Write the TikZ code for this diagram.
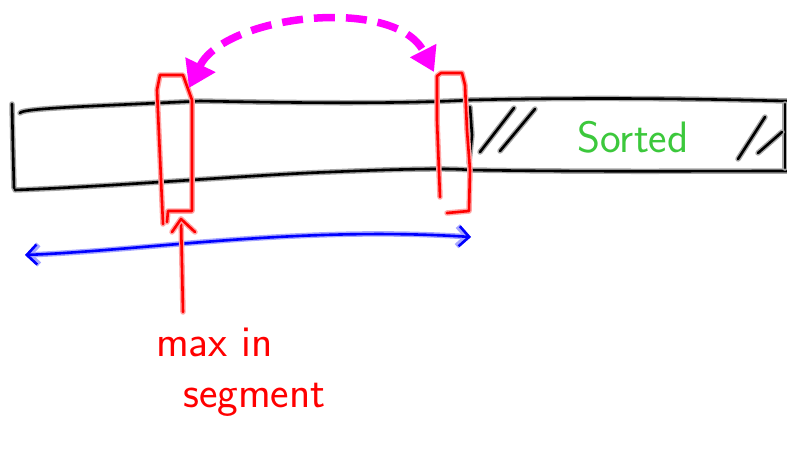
\documentclass[tikz,border=0pt]{standalone}
\usetikzlibrary{arrows.meta}
\definecolor{swapmag}{RGB}{255,0,255}
\definecolor{sortgreen}{RGB}{60,200,60}
\definecolor{pen red}{RGB}{255,0,0}
\definecolor{pen blue}{RGB}{0,0,255}
\tikzset{
  ink/.style={line width=2.6pt, line cap=round, line join=round, draw=#1,
    preaction={draw=#1!35, line width=5.5pt, line cap=round, line join=round}},
  blackpen/.style={ink=black},
  redpen/.style={ink=pen red},
  bluepen/.style={ink=pen blue},
  swap/.style={draw=swapmag, line width=7.5pt, dash pattern=on 21pt off 11pt},
  hand/.style={font=\sffamily\fontsize{44}{48}\selectfont, inner sep=0pt}
}
\begin{document}
\begin{tikzpicture}[x=1pt,y=-1pt]
\useasboundingbox (0,0) rectangle (787,456);
% bar
\draw[blackpen] (12,104) -- (13,150) -- (14,188) (15,190) .. controls (120,186) and (250,175) .. (330,172)
  .. controls (400,169) and (450,168) .. (470,170) .. controls (600,172) and (700,171) .. (787,171);
\draw[blackpen] (20,113) .. controls (22,108) and (100,106) .. (200,101)
  .. controls (300,103) and (400,104) .. (470,100) .. controls (600,97) and (700,99) .. (787,101);
\draw[blackpen] (470,107) -- (472,135) -- (469,163);
\draw[blackpen] (785,104) -- (785,168);
% hatches
\draw[blackpen] (480,152) -- (514,108);
\draw[blackpen] (500,151) -- (535,109);
\draw[blackpen] (738,159) -- (765,117);
\draw[blackpen] (758,153) -- (782,132);
\node[hand, text=sortgreen, anchor=center] (sorted) at (633,137) {Sorted};
% red boxes
\draw[redpen] (167,222) -- (168,211) -- (192,211) -- (192,100) -- (183,75) -- (160,75) -- (157,90) -- (163,224);
\draw[redpen] (440,197) -- (437,120) -- (437,76) -- (441,73) -- (462,73) -- (465,85) -- (467,130) -- (470,170) -- (469,211) -- (447,213);
% magenta swap
\coordinate (lefttop) at (189,88);
\coordinate (righttop) at (434,72);
\draw[swap, {Triangle[length=26pt,width=32pt]}-{Triangle[length=24pt,width=28pt]}]
  (lefttop) .. controls (225,15) and (395,-5) .. (righttop);
% blue range
\coordinate (bl) at (25,255);
\coordinate (br) at (471,237);
\draw[bluepen, {Straight Barb[length=10pt,width=20pt]}-{Straight Barb[length=10pt,width=20pt]}]
  (bl) .. controls (150,250) and (300,226) .. (br);
% red pointer
\node[hand, text=pen red, anchor=north west] (maxin) at (156,328) {max in};
\node[hand, text=pen red, anchor=north west] (seg) at (183,383) {segment};
\coordinate (ptop) at (181,219);
\coordinate (pbot) at (183,312);
\draw[redpen] (pbot) -- (ptop);
\draw[redpen] (172,232) -- (ptop) -- (195,232);
\end{tikzpicture}
\end{document}
